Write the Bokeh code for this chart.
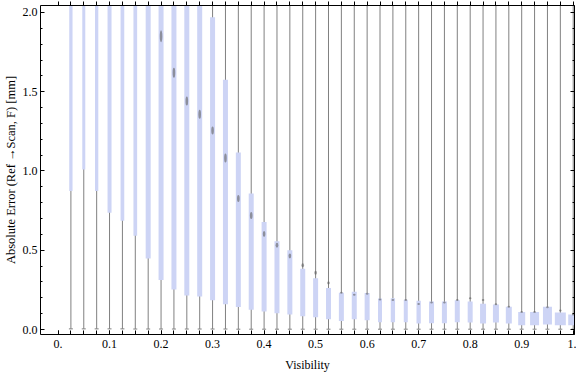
from bokeh.plotting import figure
from bokeh.models import LinearAxis, FixedTicker, Range1d, ColumnDataSource
from bokeh.embed import file_html
from bokeh.resources import INLINE

# ---- data ----
visibility = [0.025, 0.05, 0.075, 0.1, 0.125, 0.15, 0.175, 0.2, 0.225, 0.25,
              0.275, 0.3, 0.325, 0.35, 0.375, 0.4, 0.425, 0.45, 0.475, 0.5,
              0.525, 0.55, 0.575, 0.6, 0.625, 0.65, 0.675, 0.7, 0.725, 0.75,
              0.775, 0.8, 0.825, 0.85, 0.875, 0.9, 0.925, 0.95, 0.975, 1.0]
whisker_lo = [0.004, 0.004, 0.004, 0.004, 0.004, 0.003, 0.003, 0.003, 0.003, 0.003,
              0.003, 0.003, 0.003, 0.002, 0.002, 0.002, 0.002, 0.002, 0.002, 0.002,
              0.002, 0.002, 0.002, 0.002, 0.002, 0.002, 0.002, 0.002, 0.002, 0.002,
              0.002, 0.002, 0.002, 0.002, 0.002, 0.002, 0.002, 0.002, 0.002, 0.002]
whisker_hi = [3.5, 3.5, 3.5, 3.4, 3.4, 3.3, 3.3, 3.2, 3.2, 3.1,
              3.1, 3.0, 3.0, 2.9, 2.9, 2.8, 2.8, 2.7, 2.7, 2.6,
              2.6, 2.6, 2.5, 2.5, 2.5, 2.5, 2.5, 2.5, 2.4, 2.4,
              2.4, 2.4, 2.4, 2.3, 2.3, 2.3, 2.3, 2.3, 2.2, 2.2]
q1 = [0.873, 1.01, 0.873, 0.736, 0.686, 0.592, 0.448, 0.312, 0.253, 0.215,
      0.209, 0.184, 0.159, 0.142, 0.124, 0.113, 0.102, 0.094, 0.084, 0.077,
      0.065, 0.054, 0.065, 0.059, 0.046, 0.046, 0.046, 0.038, 0.040, 0.040,
      0.046, 0.044, 0.038, 0.044, 0.038, 0.027, 0.027, 0.031, 0.027, 0.027]
q3 = [2.8, 2.8, 2.7, 2.6, 2.6, 2.5, 2.4, 2.3, 2.2, 2.15,
      2.1, 1.97, 1.576, 1.117, 0.858, 0.678, 0.557, 0.500, 0.383, 0.324,
      0.262, 0.232, 0.238, 0.230, 0.195, 0.197, 0.188, 0.182, 0.176, 0.176,
      0.184, 0.176, 0.163, 0.157, 0.144, 0.111, 0.111, 0.144, 0.107, 0.094]
marker = [2.45, 2.5, 2.35, 2.3, 2.25, 2.2, 2.1, 1.85, 1.62, 1.442,
          1.358, 1.255, 1.082, 0.827, 0.720, 0.603, 0.532, 0.463, 0.406, 0.358,
          0.293, 0.232, 0.220, 0.226, 0.190, 0.186, 0.186, 0.161, 0.170, 0.170,
          0.186, 0.197, 0.186, 0.159, 0.144, 0.111, 0.111, 0.140, 0.120, 0.094]

x_ticks = [0.0, 0.025, 0.05, 0.075, 0.1, 0.125, 0.15, 0.175, 0.2, 0.225, 0.25,
           0.275, 0.3, 0.325, 0.35, 0.375, 0.4, 0.425, 0.45, 0.475, 0.5,
           0.525, 0.55, 0.575, 0.6, 0.625, 0.65, 0.675, 0.7, 0.725, 0.75,
           0.775, 0.8, 0.825, 0.85, 0.875, 0.9, 0.925, 0.95, 0.975, 1.0]
x_label_ticks = [0.0, 0.1, 0.2, 0.3, 0.4, 0.5, 0.6, 0.7, 0.8, 0.9, 1.0]
x_tick_labels = ["0.", "0.1", "0.2", "0.3", "0.4", "0.5", "0.6", "0.7", "0.8", "0.9", "1."]
y_ticks = [0.0, 0.5, 1.0, 1.5, 2.0]
y_tick_labels = ["0.0", "0.5", "1.0", "1.5", "2.0"]
y_minor = [0.1, 0.2, 0.3, 0.4, 0.6, 0.7, 0.8, 0.9, 1.1, 1.2, 1.3, 1.4,
           1.6, 1.7, 1.8, 1.9]

# ---- styles ----
box_w_px = [3.3, 3, 3.3, 4, 3.7, 3.7, 5, 5, 5, 5,
            5, 5, 5, 5, 5, 5, 5, 5, 5, 5,
            5, 5, 5, 5, 4, 4.3, 4, 4.3, 5, 5,
            5, 5, 6, 6, 6, 7, 9, 9, 11, 10]
marker_h_px = [10, 10, 10, 10, 10, 10, 11, 12, 10, 9,
               9, 8, 9, 7, 7, 6, 5, 5, 4, 4,
               3, 2, 2, 2, 2, 2, 2, 2, 2, 2,
               2, 2, 2, 2, 2, 2, 2, 2, 2, 2]

FONT = "Liberation Serif"
BOX = "#CDD4F5"
WHISK = "#808080"

src = ColumnDataSource(dict(
    x=visibility, lo=whisker_lo, hi=whisker_hi,
    mid=[(a + b) / 2 for a, b in zip(q1, q3)],
    h=[b - a for a, b in zip(q1, q3)],
    med=marker, w=box_w_px, mh=marker_h_px))

p = figure(width=576, height=375, output_backend="svg", toolbar_location=None,
           x_range=Range1d(-0.034, 1.0025), y_range=Range1d(-0.0315, 2.044),
           min_border_left=39, min_border_right=2, min_border_top=5,
           min_border_bottom=41)
p.outline_line_color = None
p.xgrid.visible = False
p.ygrid.visible = False
p.background_fill_color = "white"

p.segment(x0="x", y0="lo", x1="x", y1="hi", source=src, line_color=WHISK, line_width=1)
p.scatter(x="x", y="lo", source=src, marker="dash", size=4, line_color=WHISK, line_width=1)
p.rect(x="x", y="mid", width="w", height="h", width_units="screen", source=src,
       fill_color=BOX, line_color=None)
p.ellipse(x="x", y="med", width=2.6, height="mh", width_units="screen",
          height_units="screen", source=src, fill_color="#606060",
          fill_alpha=0.6, line_color=None)

def style_axis(ax):
    ax.axis_line_color = "black"
    ax.major_tick_line_color = "black"
    ax.minor_tick_line_color = "black"
    ax.major_label_text_font = FONT
    ax.major_label_text_font_size = "12px"
    ax.major_label_text_color = "black"
    ax.axis_label_text_font = FONT
    ax.axis_label_text_font_size = "12px"
    ax.axis_label_text_font_style = "normal"
    ax.axis_label_text_color = "black"

# bottom axis: labelled ticks every 0.1, unlabelled ticks every 0.025
xa = p.xaxis[0]
xa.ticker = FixedTicker(ticks=x_label_ticks, minor_ticks=x_ticks)
xa.major_label_overrides = dict(zip(x_label_ticks, x_tick_labels))
xa.axis_label = "Visibility"
style_axis(xa)
xa.major_tick_in = 4
xa.major_tick_out = 0
xa.minor_tick_in = 4
xa.minor_tick_out = 0
xa.major_label_standoff = 5
xa.axis_label_standoff = 7

# left axis
ya = p.yaxis[0]
ya.ticker = FixedTicker(ticks=y_ticks, minor_ticks=y_minor)
ya.major_label_overrides = dict(zip(y_ticks, y_tick_labels))
ya.axis_label = "Absolute Error (Ref \u2192Scan, F) [mm]"
style_axis(ya)
ya.axis_label_text_font_size = "12.5px"
ya.major_tick_in = 4
ya.major_tick_out = 0
ya.minor_tick_in = 2
ya.minor_tick_out = 0
ya.major_label_standoff = 3
ya.axis_label_standoff = 2

# top axis (unlabelled ticks only)
ta = LinearAxis(ticker=FixedTicker(ticks=[], minor_ticks=x_ticks))
style_axis(ta)
ta.major_tick_in = 0
ta.major_tick_out = 0
ta.minor_tick_in = 0
ta.minor_tick_out = 4
p.add_layout(ta, "above")

# right axis (unlabelled ticks only): long ticks at 0.5 steps
ra = LinearAxis(ticker=FixedTicker(ticks=[], minor_ticks=y_ticks))
style_axis(ra)
ra.major_tick_in = 0
ra.major_tick_out = 0
ra.minor_tick_in = 4
ra.minor_tick_out = 0
p.add_layout(ra, "right")

# right axis short ticks at 0.1 steps
ra2 = LinearAxis(ticker=FixedTicker(ticks=[], minor_ticks=y_minor))
style_axis(ra2)
ra2.major_tick_in = 0
ra2.major_tick_out = 0
ra2.minor_tick_in = 2
ra2.minor_tick_out = 0
p.add_layout(ra2, "right")

open("out.html", "w").write(file_html(p, INLINE))
